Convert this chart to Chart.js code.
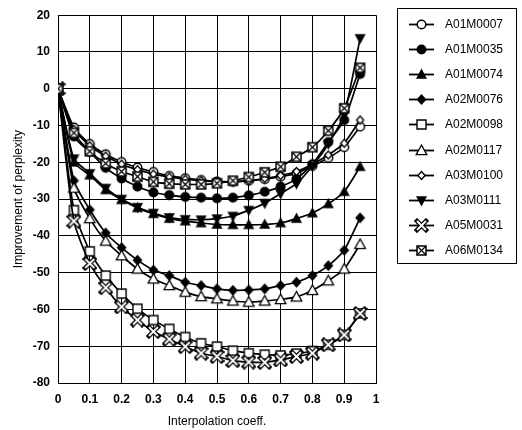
<!DOCTYPE html>
<html>
<head>
<meta charset="utf-8">
<script src="https://cdn.jsdelivr.net/npm/chart.js@4/dist/chart.umd.min.js"></script>
<style>
html,body{margin:0;padding:0;background:#fff;}
#c{display:block;}
</style>
</head>
<body>
<canvas id="c" width="522" height="430" style="width:522px;height:430px"></canvas>
<script>
// ---- data ----
const xValues = [0, 0.05, 0.1, 0.15, 0.2, 0.25, 0.3, 0.35, 0.4, 0.45, 0.5, 0.55, 0.6, 0.65, 0.7, 0.75, 0.8, 0.85, 0.9, 0.95];
const seriesNames = ["A01M0007","A01M0035","A01M0074","A02M0076","A02M0098","A02M0117","A03M0100","A03M0111","A05M0031","A06M0134"];
const A01M0007 = [0, -10.5, -15, -17.8, -19.9, -21.4, -22.6, -23.7, -24.3, -24.8, -25.2, -25.3, -25, -24.6, -23.9, -23, -21, -18.8, -15.9, -10.3];
const A01M0035 = [0, -13, -17.2, -21.5, -24.4, -26.6, -28.2, -28.9, -29.4, -29.6, -29.8, -29.6, -29, -28, -26.6, -24.5, -20.5, -14.5, -8.5, 4];
const A01M0074 = [0, -20, -23.5, -27.5, -30.2, -32.4, -34, -35.3, -36, -36.5, -36.9, -37, -37, -36.9, -36.5, -35.3, -33.8, -31.3, -28, -21.2];
const A02M0076 = [0, -25, -32.9, -39.2, -43.2, -46.6, -49.3, -50.8, -52.6, -53.5, -54.4, -54.8, -54.7, -54.4, -53.5, -52.6, -50.8, -48.1, -43.9, -35.1];
const A02M0098 = [0, -33, -44.2, -50.8, -55.7, -59.8, -62.9, -65.3, -67.5, -69.2, -70.1, -71.2, -71.9, -72.3, -72.5, -72, -71.3, -69.6, -66.9, -61.1];
const A02M0117 = [0, -27, -35.3, -41.4, -45.4, -49, -51.7, -53.5, -55.3, -56.5, -57.1, -57.7, -58, -57.7, -57.3, -56.6, -54.8, -52.2, -49, -42.3];
const A03M0100 = [0, -11, -15.5, -18.3, -20.5, -22, -23.2, -24, -24.6, -25, -25.3, -25.3, -25, -24.4, -23.6, -22.5, -20.5, -18, -14.8, -8.5];
const A03M0111 = [0, -19, -23, -27, -30, -32.2, -33.8, -35, -35.5, -35.6, -35.3, -34.6, -33, -31.1, -28.5, -25.8, -21, -15, -7, 13.7];
const A05M0031 = [0, -36, -47.5, -54.1, -59.3, -62.9, -66, -68.1, -70.1, -71.9, -72.8, -73.9, -74.3, -74.4, -73.7, -72.8, -71.9, -69.6, -66.9, -61.1];
const A06M0134 = [0, -12, -17, -20.3, -22.5, -23.9, -25.3, -25.8, -26, -26, -25.7, -25, -24, -22.7, -21.2, -18.5, -15.9, -11.4, -5.3, 5.7];
const xTickLabels = ["0","0.1","0.2","0.3","0.4","0.5","0.6","0.7","0.8","0.9","1"];
const yTickLabels = ["-80","-70","-60","-50","-40","-30","-20","-10","0","10","20"];
const seriesValues = [A01M0007, A01M0035, A01M0074, A02M0076, A02M0098, A02M0117, A03M0100, A03M0111, A05M0031, A06M0134];

// ---- marker images ----
function mk(draw){
  const c = document.createElement('canvas');
  c.width = 15; c.height = 15;
  const g = c.getContext('2d');
  g.translate(7.5, 7.5);
  g.strokeStyle = '#000'; g.fillStyle = '#000';
  draw(g);
  return c;
}
function poly(g, pts){ g.beginPath(); g.moveTo(pts[0][0], pts[0][1]); for (let i=1;i<pts.length;i++) g.lineTo(pts[i][0], pts[i][1]); g.closePath(); }
const markers = {
  openCircle: mk(g=>{ g.beginPath(); g.arc(0,0,4.3,0,Math.PI*2); g.fillStyle='#fff'; g.fill(); g.lineWidth=1.5; g.stroke(); }),
  filledCircle: mk(g=>{ g.beginPath(); g.arc(0,0,5,0,Math.PI*2); g.fill(); }),
  filledTri: mk(g=>{ poly(g, [[0,-6],[5.5,4.2],[-5.5,4.2]]); g.fill(); }),
  filledDiamond: mk(g=>{ poly(g, [[0,-5.5],[5,0],[0,5.5],[-5,0]]); g.fill(); }),
  openSquare: mk(g=>{ g.beginPath(); g.rect(-4.5,-4.5,9,9); g.fillStyle='#fff'; g.fill(); g.lineWidth=1.4; g.stroke(); }),
  openTri: mk(g=>{ poly(g, [[0,-5.5],[5.3,4.2],[-5.3,4.2]]); g.fillStyle='#fff'; g.fill(); g.lineWidth=1.3; g.stroke(); }),
  smallDiamond: mk(g=>{ poly(g, [[0,-4],[3.6,0],[0,4],[-3.6,0]]); g.fillStyle='#fff'; g.fill(); g.lineWidth=1.3; g.stroke(); }),
  downTri: mk(g=>{ poly(g, [[0,6],[5.5,-4.2],[-5.5,-4.2]]); g.fill(); }),
  xMark: mk(g=>{ g.lineCap='square'; g.lineWidth=4.5; g.beginPath(); g.moveTo(-4.5,-4.5); g.lineTo(4.5,4.5); g.moveTo(4.5,-4.5); g.lineTo(-4.5,4.5); g.stroke();
                 g.strokeStyle='#fff'; g.lineWidth=1.8; g.lineCap='butt'; g.beginPath(); g.moveTo(-4.5,-4.5); g.lineTo(4.5,4.5); g.moveTo(4.5,-4.5); g.lineTo(-4.5,4.5); g.stroke(); }),
  boxed: mk(g=>{ g.beginPath(); g.rect(-4.5,-4.5,9,9); g.fillStyle='#fff'; g.fill(); g.lineWidth=1.5; g.stroke();
                 g.lineWidth=1.2; g.beginPath(); g.moveTo(-4.5,-4.5); g.lineTo(4.5,4.5); g.moveTo(4.5,-4.5); g.lineTo(-4.5,4.5); g.stroke(); })
};
const markerOrder = ['openCircle','filledCircle','filledTri','filledDiamond','openSquare','openTri','smallDiamond','downTri','xMark','boxed'];

const datasets = seriesNames.map((name, i) => ({
  label: name,
  data: xValues.map((x, j) => ({x: x, y: seriesValues[i][j]})),
  showLine: true,
  borderColor: '#000',
  borderWidth: 1.7,
  backgroundColor: '#000',
  tension: 0.2,
  pointStyle: markers[markerOrder[i]],
  pointRadius: 5,
  order: 10 - i
}));

const FONT = "'Liberation Sans', Arial, sans-serif";

const legendPlugin = {
  id: 'boxLegend',
  afterDraw(chart){
    const ctx = chart.ctx;
    ctx.save();
    ctx.strokeStyle = '#000';
    ctx.lineWidth = 1;
    ctx.strokeRect(397.5, 8.5, 119, 255);
    ctx.font = '12px ' + FONT;
    ctx.fillStyle = '#000';
    ctx.textBaseline = 'middle';
    chart.data.datasets.forEach((ds, i) => {
      const y = Math.round(23.5 + i * 25.2) + 0.5;
      ctx.beginPath();
      ctx.lineWidth = 1.8;
      ctx.moveTo(409, y); ctx.lineTo(434, y);
      ctx.stroke();
      const img = ds.pointStyle;
      ctx.drawImage(img, 421.5 - img.width/2, y - img.height/2);
      ctx.fillText(ds.label, 445, y + 0.5);
    });
    ctx.restore();
  }
};

new Chart(document.getElementById('c'), {
  type: 'scatter',
  data: { datasets },
  plugins: [legendPlugin],
  options: {
    responsive: false,
    animation: false,
    devicePixelRatio: 1,
    layout: { padding: { top: 12, right: 146, left: 0, bottom: 0 } },
    plugins: { legend: { display: false }, tooltip: { enabled: false } },
    scales: {
      x: {
        type: 'linear', min: 0, max: 1,
        ticks: { stepSize: 0.1, autoSkip: false, maxRotation: 0, padding: 9, color: '#000',
                 font: { family: FONT, size: 12, weight: 'bold' },
                 callback: (v, i) => xTickLabels[i] },
        grid: { color: '#000', lineWidth: 1, drawTicks: false },
        border: { color: '#000', width: 1 },
        title: { display: true, text: 'Interpolation coeff.', color: '#000',
                 font: { family: FONT, size: 12 }, padding: { top: 0, bottom: 1 } },
        afterFit(s){ s.height = 47; }
      },
      y: {
        min: -80, max: 20,
        ticks: { stepSize: 10, padding: 8, color: '#000',
                 font: { family: FONT, size: 12, weight: 'bold' },
                 callback: (v, i) => yTickLabels[i] },
        grid: { color: '#000', lineWidth: 1, drawTicks: false },
        border: { color: '#000', width: 1 },
        title: { display: true, text: 'Improvement of perplexity', color: '#000',
                 font: { family: FONT, size: 12 }, padding: { top: 11, bottom: 0 } },
        afterFit(s){ s.width = 58; }
      }
    }
  }
});
</script>
</body>
</html>
